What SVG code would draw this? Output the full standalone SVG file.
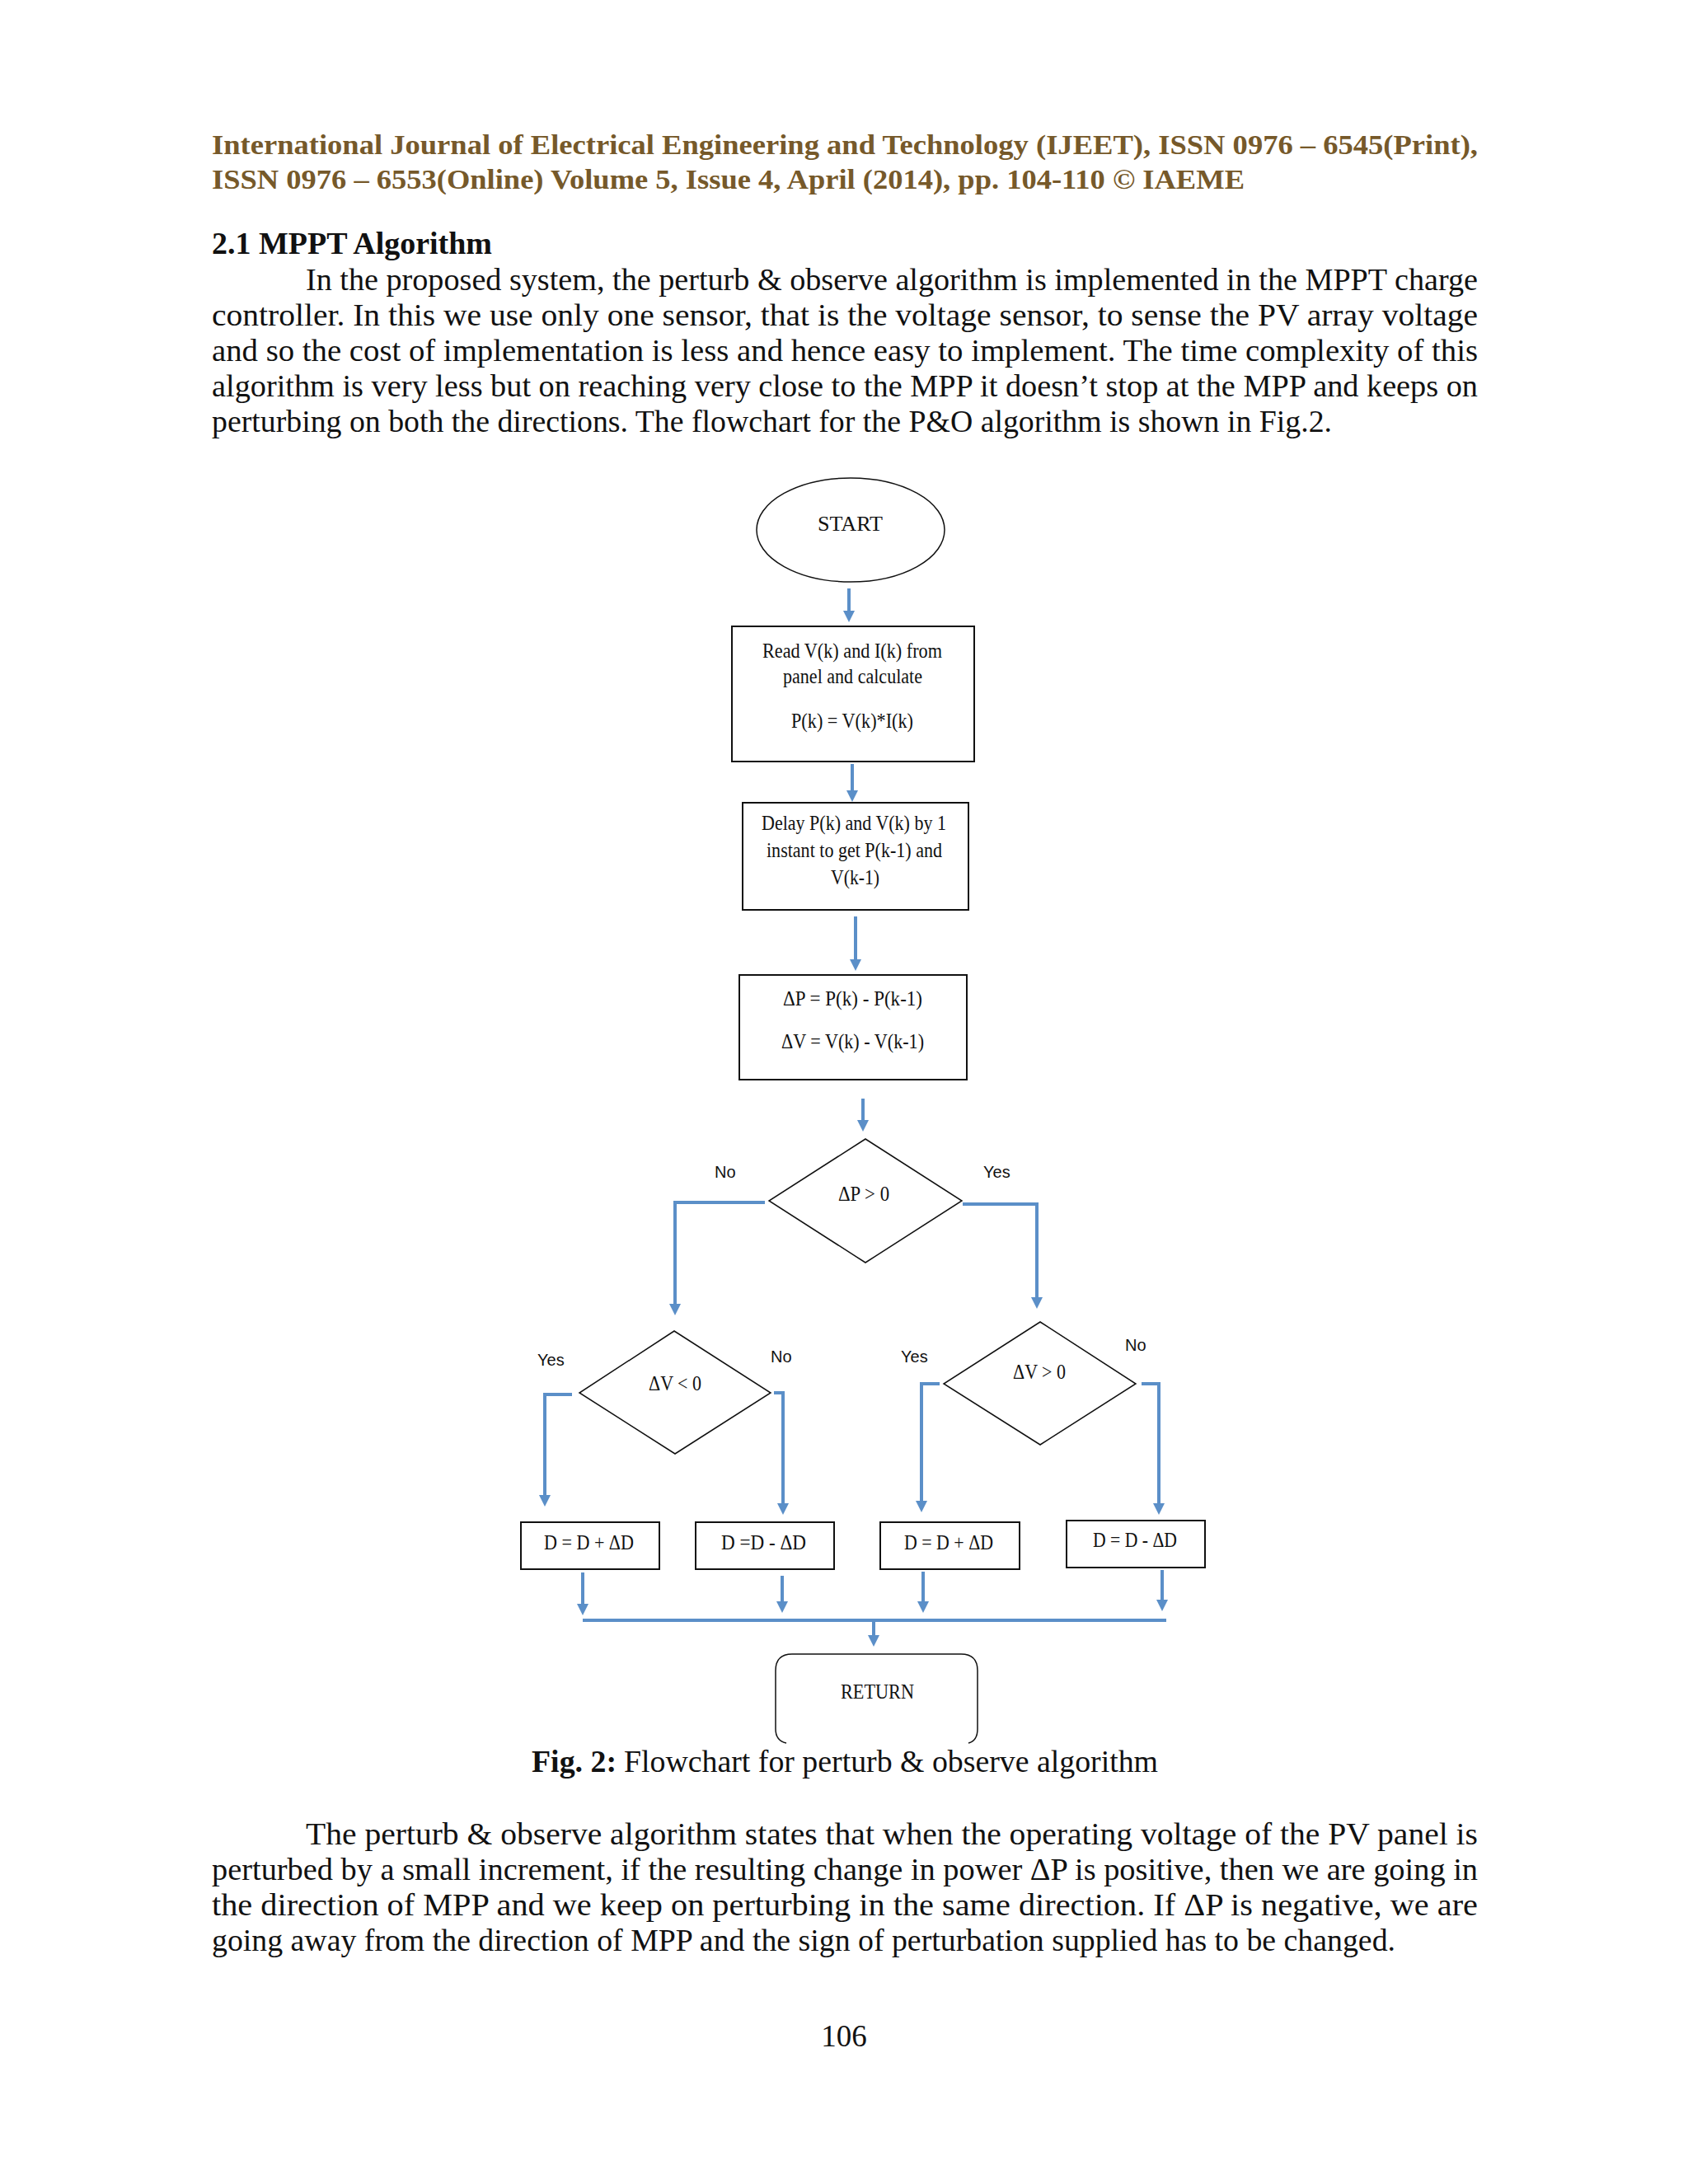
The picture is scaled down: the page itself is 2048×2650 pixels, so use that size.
<svg xmlns="http://www.w3.org/2000/svg" width="2048" height="2650" viewBox="0 0 2048 2650">
<style>
.hdr{font-family:"Liberation Serif","Times New Roman",serif;font-weight:bold;font-size:34px;fill:#76592a}
.body{font-family:"Liberation Serif","Times New Roman",serif;font-size:37px;fill:#111}
.bold{font-weight:bold}
.nt{font-family:"Liberation Serif","Times New Roman",serif;font-size:25px;fill:#111}
.lbl{font-family:"Liberation Sans",Arial,sans-serif;font-size:20px;fill:#111}
.box{fill:#fff;stroke:#111;stroke-width:2}
.dia{fill:#fff;stroke:#111;stroke-width:1.5}
.con{fill:none;stroke:#5b8fc8;stroke-width:4;marker-end:url(#ah)}
.bus{fill:none;stroke:#5b8fc8;stroke-width:4}
</style>
<defs>
<marker id="ah" viewBox="0 0 14 14" refX="10" refY="7" markerWidth="14" markerHeight="14" markerUnits="userSpaceOnUse" orient="auto">
<path d="M0,0 L14,7 L0,14 z" fill="#5b8fc8"/>
</marker>
</defs>
<rect width="2048" height="2650" fill="#fff"/>

<g id="header">
<text class="hdr" x="257" y="187" textLength="1536" lengthAdjust="spacingAndGlyphs">International Journal of Electrical Engineering and Technology (IJEET), ISSN 0976 – 6545(Print),</text>
<text class="hdr" x="257" y="229" textLength="1253" lengthAdjust="spacingAndGlyphs">ISSN 0976 – 6553(Online) Volume 5, Issue 4, April (2014), pp. 104-110 © IAEME</text>
</g>

<g id="para1">
<text class="body bold" x="257" y="308" textLength="340" lengthAdjust="spacingAndGlyphs">2.1 MPPT Algorithm</text>
<text class="body" x="371" y="352" textLength="1422" lengthAdjust="spacingAndGlyphs">In the proposed system, the perturb &amp; observe algorithm is implemented in the MPPT charge</text>
<text class="body" x="257" y="395" textLength="1536" lengthAdjust="spacingAndGlyphs">controller. In this we use only one sensor, that is the voltage sensor, to sense the PV array voltage</text>
<text class="body" x="257" y="438" textLength="1536" lengthAdjust="spacingAndGlyphs">and so the cost of implementation is less and hence easy to implement. The time complexity of this</text>
<text class="body" x="257" y="481" textLength="1536" lengthAdjust="spacingAndGlyphs">algorithm is very less but on reaching very close to the MPP it doesn’t stop at the MPP and keeps on</text>
<text class="body" x="257" y="524" textLength="1359" lengthAdjust="spacingAndGlyphs">perturbing on both the directions. The flowchart for the P&amp;O algorithm is shown in Fig.2.</text>
</g>

<g id="connectors">
<path class="con" d="M1030,714 V751"/>
<path class="con" d="M1034,927 V969"/>
<path class="con" d="M1038,1112 V1174"/>
<path class="con" d="M1047,1333 V1369"/>
<path class="con" d="M928,1459 H819 V1592"/>
<path class="con" d="M1168,1461 H1258 V1584"/>
<path class="con" d="M694,1692 H661 V1824"/>
<path class="con" d="M939,1690 H950 V1834"/>
<path class="con" d="M1140,1679 H1118 V1831"/>
<path class="con" d="M1385,1679 H1406 V1834"/>
<path class="con" d="M707,1908 V1956"/>
<path class="con" d="M949,1912 V1953"/>
<path class="con" d="M1120,1907 V1953"/>
<path class="con" d="M1410,1905 V1951"/>
<path class="bus" d="M707,1966 H1415"/>
<path class="con" d="M1060,1966 V1994"/>
</g>

<g id="start">
<ellipse cx="1032" cy="643" rx="114" ry="63" fill="#fff" stroke="#111" stroke-width="1.5"/>
<text class="nt" x="992" y="644" font-size="29" textLength="79" lengthAdjust="spacingAndGlyphs">START</text>
</g>

<g id="read">
<rect class="box" x="888" y="760" width="294" height="164"/>
<text class="nt" x="925" y="798" textLength="218" lengthAdjust="spacingAndGlyphs">Read V(k) and I(k) from</text>
<text class="nt" x="950" y="829" textLength="169" lengthAdjust="spacingAndGlyphs">panel and calculate</text>
<text class="nt" x="960" y="883" textLength="148" lengthAdjust="spacingAndGlyphs">P(k) = V(k)*I(k)</text>
</g>

<g id="delay">
<rect class="box" x="901" y="974" width="274" height="130"/>
<text class="nt" x="924" y="1007" textLength="224" lengthAdjust="spacingAndGlyphs">Delay P(k) and V(k) by 1</text>
<text class="nt" x="930" y="1040" textLength="213" lengthAdjust="spacingAndGlyphs">instant to get P(k-1) and</text>
<text class="nt" x="1008" y="1073" textLength="59" lengthAdjust="spacingAndGlyphs">V(k-1)</text>
</g>

<g id="delta">
<rect class="box" x="897" y="1183" width="276" height="127"/>
<text class="nt" x="950" y="1220" textLength="169" lengthAdjust="spacingAndGlyphs">ΔP =  P(k) - P(k-1)</text>
<text class="nt" x="948" y="1272" textLength="173" lengthAdjust="spacingAndGlyphs">ΔV = V(k) - V(k-1)</text>
</g>

<g id="dec-dp">
<polygon class="dia" points="1050,1382 1167,1457 1050,1532 933,1457"/>
<text class="nt" x="1017" y="1457" textLength="62" lengthAdjust="spacingAndGlyphs">ΔP &gt; 0</text>
<text class="lbl" x="867" y="1429">No</text>
<text class="lbl" x="1193" y="1429">Yes</text>
</g>

<g id="dec-dv-neg">
<polygon class="dia" points="818,1615 935,1690 819,1764 703,1690"/>
<text class="nt" x="787" y="1687" textLength="64" lengthAdjust="spacingAndGlyphs">ΔV  &lt; 0</text>
<text class="lbl" x="652" y="1657">Yes</text>
<text class="lbl" x="935" y="1653">No</text>
</g>

<g id="dec-dv-pos">
<polygon class="dia" points="1262,1604 1378,1679 1262,1753 1145,1679"/>
<text class="nt" x="1229" y="1673" textLength="64" lengthAdjust="spacingAndGlyphs">ΔV &gt; 0</text>
<text class="lbl" x="1093" y="1653">Yes</text>
<text class="lbl" x="1365" y="1639">No</text>
</g>

<g id="inc1">
<rect class="box" x="632" y="1847" width="168" height="57"/>
<text class="nt" x="660" y="1880" textLength="109" lengthAdjust="spacingAndGlyphs">D = D + ΔD</text>
</g>
<g id="dec1">
<rect class="box" x="844" y="1847" width="168" height="57"/>
<text class="nt" x="875" y="1880" textLength="103" lengthAdjust="spacingAndGlyphs">D =D - ΔD</text>
</g>
<g id="inc2">
<rect class="box" x="1068" y="1847" width="169" height="57"/>
<text class="nt" x="1097" y="1880" textLength="108" lengthAdjust="spacingAndGlyphs">D = D + ΔD</text>
</g>
<g id="dec2">
<rect class="box" x="1294" y="1845" width="168" height="57"/>
<text class="nt" x="1326" y="1877" textLength="102" lengthAdjust="spacingAndGlyphs">D = D - ΔD</text>
</g>

<g id="return">
<path d="M954,2115 Q941,2112 941,2098 V2027 Q941,2007 961,2007 H1166 Q1186,2007 1186,2027 V2098 Q1186,2112 1175,2115" fill="none" stroke="#111" stroke-width="1.5"/>
<text class="nt" x="1020" y="2061" textLength="89" lengthAdjust="spacingAndGlyphs">RETURN</text>
</g>

<g id="caption">
<text class="body bold" x="645" y="2150" textLength="103" lengthAdjust="spacingAndGlyphs">Fig. 2:</text>
<text class="body" x="757" y="2150" textLength="648" lengthAdjust="spacingAndGlyphs">Flowchart for perturb &amp; observe algorithm</text>
</g>

<g id="para2">
<text class="body" x="371" y="2238" textLength="1422" lengthAdjust="spacingAndGlyphs">The perturb &amp; observe algorithm states that when the operating voltage of the PV panel is</text>
<text class="body" x="257" y="2281" textLength="1536" lengthAdjust="spacingAndGlyphs">perturbed by a small increment, if the resulting change in power ΔP is positive, then we are going in</text>
<text class="body" x="257" y="2324" textLength="1536" lengthAdjust="spacingAndGlyphs">the direction of MPP and we keep on perturbing in the same direction. If ΔP is negative, we are</text>
<text class="body" x="257" y="2367" textLength="1436" lengthAdjust="spacingAndGlyphs">going away from the direction of MPP and the sign of perturbation supplied has to be changed.</text>
<text class="body" x="1024" y="2483" text-anchor="middle">106</text>
</g>
</svg>
